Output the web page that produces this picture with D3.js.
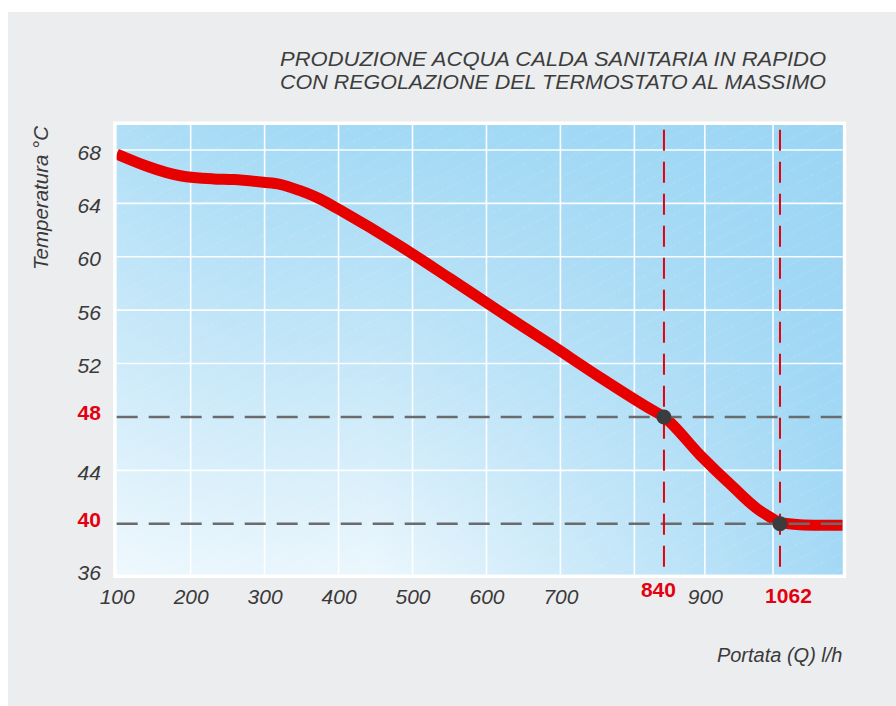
<!DOCTYPE html>
<html><head><meta charset="utf-8">
<script src="https://cdn.jsdelivr.net/npm/d3@7"></script>
<style>html,body{margin:0;padding:0;background:#fff;} svg{display:block}</style>
</head><body>
<svg id="chart" width="896" height="706"></svg>
<script>
// ---------- data ----------
const titleLines = ["PRODUZIONE ACQUA CALDA SANITARIA IN RAPIDO", "CON REGOLAZIONE DEL TERMOSTATO AL MASSIMO"];
const yAxisTitle = "Temperatura °C";
const xAxisTitle = "Portata (Q) l/h";
const flowRate    = [100, 186, 231, 258, 298, 321, 348, 375, 402, 483, 551, 618, 686, 753, 820, 840, 893, 942, 976, 996, 1062, 1074, 1088, 1100];
const temperature = [67.70, 66.07, 65.83, 65.78, 65.58, 65.43, 64.95, 64.33, 63.50, 60.82, 58.36, 55.90, 53.45, 50.99, 48.65, 48.00, 45.15, 42.73, 41.16, 40.49, 40.10, 39.93, 39.89, 39.88];
const yTicks = [36, 40, 44, 48, 52, 56, 60, 64, 68];
const yHighlightTicks = [40, 48];
const xTickLabels = [100, 200, 300, 400, 500, 600, 700, 900];
const xGridValues = [200, 300, 400, 500, 600, 700, 800, 900, 1000];
const markerFlow = [840, 1062];
const markerTemp = [48, 40];
// the printed x axis is not to scale: break points of the piecewise axis
const xBreaks = [100, 840, 1000, 1062, 1100];
const xBreakFrac = [0, 0.7538, 0.904, 0.9136, 1];
const yDomain = [36.2, 69.87];

// ---------- layout ----------
const W = 896, H = 706;
const P = {left: 116.7, right: 842.7, top: 125, bottom: 574.5};
const FONT = "'Liberation Sans', Arial, Helvetica, sans-serif";
const RED = "#e3000f";
const TXT = "#3a3a3a";

const svg = d3.select("#chart");
const defs = svg.append("defs");

const gv = defs.append("linearGradient").attr("id", "gv").attr("x1", 0).attr("y1", 0).attr("x2", 0).attr("y2", 1);
gv.append("stop").attr("offset", 0).attr("stop-color", "#a2d9f5");
gv.append("stop").attr("offset", 0.5).attr("stop-color", "#c3e6f8");
gv.append("stop").attr("offset", 1).attr("stop-color", "#ecf7fd");

const gh = defs.append("linearGradient").attr("id", "gh").attr("x1", 0).attr("y1", 0).attr("x2", 1).attr("y2", 0);
gh.append("stop").attr("offset", 0).attr("stop-color", "#ffffff").attr("stop-opacity", 0.15);
gh.append("stop").attr("offset", 0.35).attr("stop-color", "#9fd7f4").attr("stop-opacity", 0);
gh.append("stop").attr("offset", 1).attr("stop-color", "#9bd5f4").attr("stop-opacity", 0.9);

const pat = defs.append("pattern").attr("id", "stripes").attr("patternUnits", "userSpaceOnUse")
  .attr("width", 14).attr("height", 14).attr("patternTransform", "rotate(-27)");
pat.append("line").attr("x1", 0).attr("y1", 7).attr("x2", 14).attr("y2", 7)
  .attr("stroke", "#ffffff").attr("stroke-opacity", 0.22).attr("stroke-width", 0.7).attr("stroke-dasharray", "2,2");

defs.append("clipPath").attr("id", "plotclip").append("rect")
  .attr("x", P.left).attr("y", P.top).attr("width", P.right - P.left).attr("height", P.bottom - P.top);

// background
svg.append("rect").attr("x", 8).attr("y", 12).attr("width", W - 8).attr("height", H - 12).attr("fill", "#ecedef");

// frame
svg.append("rect").attr("x", P.left - 3.5).attr("y", P.top - 3.5)
  .attr("width", P.right - P.left + 7).attr("height", P.bottom - P.top + 7).attr("fill", "#ffffff");
const plotRect = (fill) => svg.append("rect").attr("x", P.left).attr("y", P.top)
  .attr("width", P.right - P.left).attr("height", P.bottom - P.top).attr("fill", fill);
plotRect("url(#gv)");
plotRect("url(#gh)");
plotRect("url(#stripes)");

// ---------- scales ----------
const x = d3.scaleLinear().domain(xBreaks).range(xBreakFrac.map(f => P.left + f * (P.right - P.left)));
const y = d3.scaleLinear().domain(yDomain).range([P.bottom, P.top]);

// grid
const grid = svg.append("g").attr("stroke", "#ffffff").attr("stroke-width", 1.6).attr("stroke-opacity", 0.95);
grid.selectAll("line.v").data(xGridValues).join("line").attr("class", "v")
  .attr("x1", d => x(d)).attr("x2", d => x(d)).attr("y1", P.top).attr("y2", P.bottom);
grid.selectAll("line.h").data(yTicks.filter(t => !yHighlightTicks.includes(t) && y(t) < P.bottom)).join("line").attr("class", "h")
  .attr("x1", P.left).attr("x2", P.right).attr("y1", d => y(d)).attr("y2", d => y(d));

// curve
const pts = flowRate.map((f, i) => [f, temperature[i]]);
const line = d3.line().x(d => x(d[0])).y(d => y(d[1])).curve(d3.curveMonotoneX);
svg.append("g").attr("clip-path", "url(#plotclip)").append("path").datum(pts)
  .attr("d", line).attr("fill", "none").attr("stroke", "#e60000").attr("stroke-width", 11)
  .attr("stroke-linejoin", "round");

// reference dashed lines
svg.append("g").selectAll("line").data(markerTemp).join("line")
  .attr("x1", P.left).attr("x2", P.right).attr("y1", d => y(d)).attr("y2", d => y(d))
  .attr("stroke", "#6b6b6d").attr("stroke-width", 2.6).attr("stroke-dasharray", "21,11");
svg.append("g").selectAll("line").data(markerFlow).join("line")
  .attr("x1", d => x(d)).attr("x2", d => x(d)).attr("y1", P.top + 4.7).attr("y2", P.bottom - 7.8)
  .attr("stroke", RED).attr("stroke-width", 2).attr("stroke-dasharray", "21,11");

// dots
svg.append("g").selectAll("circle").data(markerFlow).join("circle")
  .attr("cx", d => x(d)).attr("cy", (d, i) => y(markerTemp[i])).attr("r", 7.5).attr("fill", "#3c3c3f");

// ---------- axes ----------
const yAxisG = svg.append("g").attr("transform", `translate(${P.left},0)`)
  .call(d3.axisLeft(y).tickValues(yTicks).tickSize(0).tickFormat(d3.format("d")));
yAxisG.select(".domain").remove();
yAxisG.selectAll("text")
  .attr("x", 100.8 - P.left)
  .attr("dy", d => (yHighlightTicks.includes(d) ? 2.3 : (d === yTicks[0] ? 2.8 : 9.2)) + "px")
  .attr("text-anchor", "end")
  .style("font-family", FONT).style("font-size", "21px")
  .style("font-style", d => yHighlightTicks.includes(d) ? "normal" : "italic")
  .style("font-weight", d => yHighlightTicks.includes(d) ? "bold" : "normal")
  .attr("fill", d => yHighlightTicks.includes(d) ? RED : TXT);

const xAxisG = svg.append("g").attr("transform", `translate(0,${P.bottom})`)
  .call(d3.axisBottom(x).tickValues(xTickLabels).tickSize(0).tickFormat(d3.format("d")));
xAxisG.select(".domain").remove();
xAxisG.selectAll("text").attr("y", 29.5).attr("dy", 0)
  .style("font-family", FONT).style("font-size", "21px").style("font-style", "italic").attr("fill", TXT);

const xMarkG = svg.append("g").attr("transform", `translate(0,${P.bottom})`)
  .call(d3.axisBottom(x).tickValues(markerFlow).tickSize(0).tickFormat(d3.format("d")));
xMarkG.select(".domain").remove();
xMarkG.selectAll("text")
  .attr("y", (d, i) => i === 0 ? 22.8 : 28.8).attr("dy", 0)
  .attr("dx", (d, i) => i === 0 ? -6 : 8)
  .style("font-family", FONT).style("font-size", "21px").style("font-weight", "bold").attr("fill", RED);

// ---------- titles ----------
svg.append("g").selectAll("text").data(titleLines).join("text")
  .attr("x", 826).attr("y", (d, i) => 65.5 + i * 23)
  .attr("text-anchor", "end").attr("textLength", 546).attr("lengthAdjust", "spacingAndGlyphs")
  .style("font-family", FONT).style("font-size", "20px").style("font-style", "italic")
  .attr("fill", "#3d3d3d").text(d => d);

svg.append("text").attr("transform", "translate(48,198) rotate(-90)")
  .attr("text-anchor", "middle").style("font-family", FONT).style("font-size", "20.5px")
  .style("font-style", "italic").attr("fill", TXT).text(yAxisTitle);

svg.append("text").attr("x", 842.5).attr("y", 661.5).attr("text-anchor", "end")
  .style("font-family", FONT).style("font-size", "20px").style("font-style", "italic")
  .attr("fill", TXT).text(xAxisTitle);
</script>
</body></html>
